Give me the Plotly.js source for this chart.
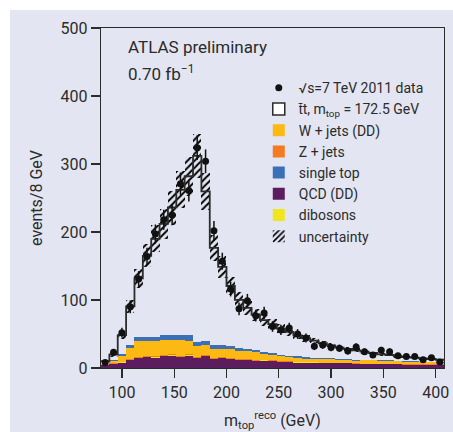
<!DOCTYPE html>
<html><head><meta charset="utf-8">
<script src="https://cdn.plot.ly/plotly-3.0.1.min.js"></script>
<style>
html,body{margin:0;padding:0;background:#ffffff;width:453px;height:432px;overflow:hidden}
#chart{position:absolute;left:10px;top:10px;width:443px;height:422px}
</style>
</head><body><div id="chart"></div>
<script>
// ---- data (bins of 8 GeV, centers) ----
const binCenters = [84, 92, 100, 108, 116, 124, 132, 140, 148, 156, 164, 172, 180, 188, 196, 204, 212, 220, 228, 236, 244, 252, 260, 268, 276, 284, 292, 300, 308, 316, 324, 332, 340, 348, 356, 364, 372, 380, 388, 396, 404];
const dataCounts = [8, 23, 52, 90, 131, 164, 197, 218, 225, 271, 261, 324, 304, 202, 157, 116, 87, 99, 77, 81, 61, 56, 59, 50, 44, 32, 34, 30, 29, 25, 31, 24, 19, 26, 24, 18, 17, 17, 12, 15, 9];
const ttbar = [4, 8, 28, 57, 87, 119, 144, 164, 187, 213, 234, 274, 220, 143, 115, 88, 71, 61, 52, 47, 43, 39, 35, 31, 28, 25, 22, 19, 17, 15, 14, 12, 10, 9, 8, 6, 6, 5, 5, 4, 4];
const wjets = [1, 4, 9, 16, 23, 22, 22, 22, 21, 23, 20, 16, 15, 14, 12, 14, 12, 11, 12, 8, 8, 7, 6, 6, 5, 5, 5, 5, 4, 4, 4, 4.5, 4.5, 3.5, 3.5, 3.5, 3.5, 4, 3, 3, 2];
const zjets = [0.3, 0.5, 1, 1.2, 1.5, 1.5, 1.5, 1.5, 1.5, 1.5, 1.5, 1.5, 1.4, 1.2, 1.2, 1.2, 1, 1, 1, 1, 0.8, 0.8, 0.8, 0.8, 0.7, 0.7, 0.7, 0.6, 0.6, 0.6, 0.5, 0.5, 0.5, 0.5, 0.5, 0.4, 0.4, 0.4, 0.4, 0.3, 0.3];
const singleTop = [0.5, 1, 2, 4, 6, 6, 7, 7, 8, 8, 8, 6, 6, 5, 5, 4, 4, 3, 3, 3, 2.5, 2, 2, 2, 2, 1.5, 1.5, 1.5, 1.2, 1.2, 1.2, 1, 1, 1, 1, 1, 1, 0.8, 0.8, 0.8, 0.7];
const qcd = [4, 6, 8, 12, 14, 16, 15, 17, 18, 16, 18, 14, 17, 13, 15, 13, 12, 12, 10, 11, 10, 9, 9, 8, 8, 8, 7, 7, 7, 7, 6, 6, 6, 6, 6, 6, 5, 5, 5, 5, 5];
const dibosons = [0.1, 0.2, 0.3, 0.4, 0.5, 0.5, 0.5, 0.5, 0.5, 0.5, 0.5, 0.5, 0.4, 0.4, 0.4, 0.4, 0.3, 0.3, 0.3, 0.3, 0.3, 0.3, 0.2, 0.2, 0.2, 0.2, 0.2, 0.2, 0.2, 0.2, 0.2, 0.1, 0.1, 0.1, 0.1, 0.1, 0.1, 0.1, 0.1, 0.1, 0.1];
const mcUncertainty = [1, 3, 6, 10, 14, 17, 20, 22, 25, 27, 29, 32, 27, 19, 16, 13, 11, 10, 9, 8, 7, 6, 6, 5, 5, 4, 4, 3, 3, 3, 3, 3, 2, 2, 2, 2, 2, 2, 2, 1, 1];
const binWidth = 8;
const xTicks = [100, 150, 200, 250, 300, 350, 400];
const yTicks = [0, 100, 200, 300, 400, 500];

// ---- style ----
const FONT = 'Roboto, "Liberation Sans", sans-serif';
const BG = '#e3e6f2';
const INK = '#2b2b2b';

// stack order from bottom
const stack = [
  {name: 'QCD (DD)', y: qcd, color: '#5c1d5e', rank: 6},
  {name: 'dibosons', y: dibosons, color: '#f1e51c', rank: 7},
  {name: 'Z + jets', y: zjets, color: '#f47b20', rank: 4},
  {name: 'W + jets (DD)', y: wjets, color: '#fcb813', rank: 3},
  {name: 'single top', y: singleTop, color: '#3b70b7', rank: 5},
];

const traces = [];
let base = binCenters.map(() => 0);
for (const s of stack) {
  traces.push({
    type: 'bar', x: binCenters, y: s.y, base: base.slice(), width: binWidth,
    name: s.name, legendrank: s.rank,
    marker: {color: s.color, line: {width: 0}},
    hoverinfo: 'skip'
  });
  base = base.map((b, i) => b + s.y[i]);
}
const mcTotal = base.map((b, i) => b + ttbar[i]);

// ttbar step outline
const edges = binCenters.map(c => c - binWidth / 2).concat([binCenters[binCenters.length - 1] + binWidth / 2]);
traces.push({
  type: 'scatter', mode: 'lines', x: edges,
  y: mcTotal.concat([mcTotal[mcTotal.length - 1]]),
  line: {shape: 'hv', color: INK, width: 1.8},
  showlegend: false, hoverinfo: 'skip'
});

// uncertainty hatch
traces.push({
  type: 'bar', x: binCenters,
  y: mcUncertainty.map(u => 2 * u),
  base: mcTotal.map((t, i) => t - mcUncertainty[i]),
  width: binWidth, name: 'uncertainty', legendrank: 8,
  marker: {color: 'rgba(0,0,0,0)', line: {width: 0},
    pattern: {shape: '/', fgcolor: '#000000', fgopacity: 1, bgcolor: 'rgba(0,0,0,0)', size: 5, solidity: 0.4, fillmode: 'replace'}},
  hoverinfo: 'skip'
});

// ttbar legend entry
traces.push({
  type: 'bar', x: [null], y: [null], name: 't\u0304t, m<sub>top</sub> = 172.5 GeV', legendrank: 2,
  marker: {color: '#ffffff', line: {color: INK, width: 1.5}}
});

// data
traces.push({
  type: 'scatter', mode: 'markers', x: binCenters, y: dataCounts,
  name: '\u221As=7 TeV 2011 data', legendrank: 1,
  marker: {color: '#111', size: 7},
  error_y: {type: 'data', array: dataCounts.map(v => Math.sqrt(v)), width: 0, thickness: 1.5, color: '#111'}
});

const layout = {
  width: 443, height: 422,
  margin: {l: 91, r: 9, t: 18, b: 64},
  paper_bgcolor: BG, plot_bgcolor: BG,
  font: {family: FONT, color: INK, size: 16},
  barmode: 'overlay', bargap: 0,
  showlegend: true,
  legend: {x: 0.46, y: 0.87, xanchor: 'left', yanchor: 'top', bgcolor: 'rgba(0,0,0,0)',
    font: {family: FONT, size: 14, color: INK}, itemwidth: 30, traceorder: 'normal'},
  xaxis: {range: [80, 408], tickvals: xTicks, ticktext: xTicks.map(String), ticks: 'outside', ticklen: 9, tickwidth: 1.3,
    tickcolor: INK, showline: true, linecolor: INK, linewidth: 1.3, mirror: true, showgrid: false, zeroline: false,
    tickfont: {size: 16},
    title: {text: 'm<sub>top</sub><sup>reco</sup> (GeV)', font: {size: 16}, standoff: 14}},
  yaxis: {range: [0, 500], tickvals: yTicks, ticktext: yTicks.map(String), ticks: 'outside', ticklen: 9, tickwidth: 1.3,
    tickcolor: INK, showline: true, linecolor: INK, linewidth: 1.3, mirror: true, showgrid: false, zeroline: false,
    tickfont: {size: 16},
    title: {text: 'events/8 GeV', font: {size: 16}, standoff: 14}},
  annotations: [
    {text: 'ATLAS preliminary', xref: 'paper', yref: 'paper', x: 0.073, y: 0.9455, xanchor: 'left', yanchor: 'middle',
      showarrow: false, font: {size: 17}},
    {text: '0.70 fb<sup>\u22121</sup>', xref: 'paper', yref: 'paper', x: 0.073, y: 0.868, xanchor: 'left', yanchor: 'middle',
      showarrow: false, font: {size: 17}}
  ]
};

Plotly.newPlot('chart', traces, layout, {displayModeBar: false, staticPlot: true});
</script>
</body></html>
